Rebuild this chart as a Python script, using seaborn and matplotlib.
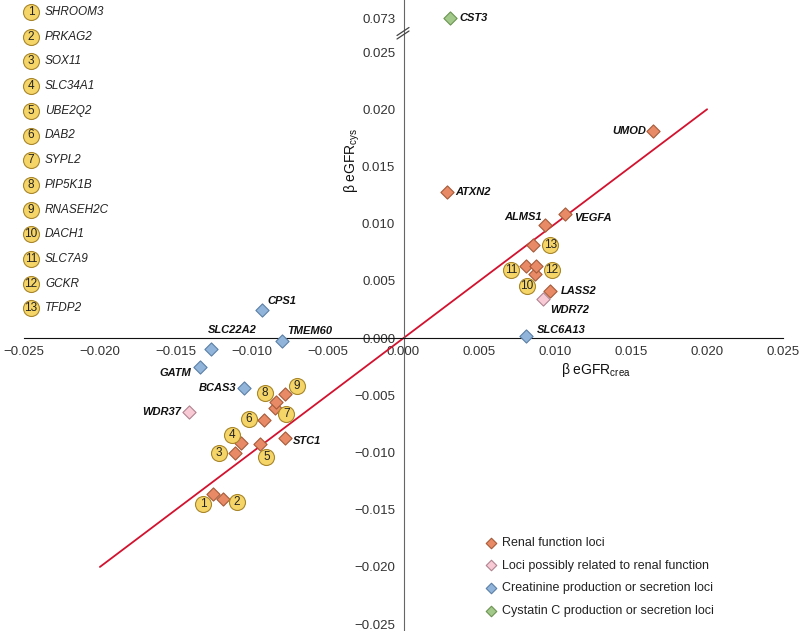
import numpy as np
import pandas as pd
import matplotlib
matplotlib.use('Agg')
import matplotlib.pyplot as plt
import matplotlib.transforms as mtransforms
import seaborn as sns

# -----------------------------
# Data
# -----------------------------
named_genes = ['UMOD', 'ATXN2', 'ALMS1', 'VEGFA', 'LASS2', 'WDR72', 'SLC6A13',
               'CPS1', 'SLC22A2', 'TMEM60', 'GATM', 'BCAS3', 'WDR37', 'STC1', 'CST3']
named_crea = [0.01646, 0.00285, 0.00934, 0.01064, 0.00965, 0.00917, 0.00805,
              -0.0093, -0.0127, -0.00798, -0.0134, -0.01049, -0.01411, -0.00783, 0.00306]
named_cys = [0.01809, 0.01279, 0.00985, 0.01081, 0.00411, 0.00338, 0.0002,
             0.00245, -0.00099, -0.00024, -0.00251, -0.00434, -0.0065, -0.00877, 0.073]
named_group = ['renal', 'renal', 'renal', 'renal', 'renal', 'possible', 'creatinine',
               'creatinine', 'creatinine', 'creatinine', 'creatinine', 'creatinine',
               'possible', 'renal', 'cystatin']

numbered_genes = ['SHROOM3', 'PRKAG2', 'SOX11', 'SLC34A1', 'UBE2Q2', 'DAB2', 'SYPL2',
                  'PIP5K1B', 'RNASEH2C', 'DACH1', 'SLC7A9', 'GCKR', 'TFDP2']
numbered_crea = [-0.01253, -0.01191, -0.0111, -0.01072, -0.00943, -0.00919, -0.00845,
                 -0.00842, -0.00783, 0.00864, 0.00807, 0.00873, 0.00855]
numbered_cys = [-0.01364, -0.0141, -0.01003, -0.0092, -0.00929, -0.00717, -0.00615,
                -0.00557, -0.00492, 0.0056, 0.00632, 0.00632, 0.00813]

groups = ['renal', 'possible', 'creatinine', 'cystatin']
group_labels = ['Renal function loci', 'Loci possibly related to renal function',
                'Creatinine production or secretion loci', 'Cystatin C production or secretion loci']

x_ticks = [-0.025, -0.02, -0.015, -0.01, -0.005, 0.0, 0.005, 0.01, 0.015, 0.02, 0.025]
y_ticks = [-0.025, -0.02, -0.015, -0.01, -0.005, 0.0, 0.005, 0.01, 0.015, 0.02, 0.025, 0.073]
identity_range = [-0.02, 0.02]

# -----------------------------
# Styles / positions
# -----------------------------
fills = {'renal': '#e98a66', 'possible': '#f7cad6', 'creatinine': '#91b5da', 'cystatin': '#a3c98a'}
edges = {'renal': '#a65a38', 'possible': '#b0828f', 'creatinine': '#5b7fa6', 'cystatin': '#6b9352'}

# label offsets in pixels: (ha, dx, dy)
label_pos = {
    'UMOD': ('right', -7, 0), 'ATXN2': ('left', 8, 0), 'ALMS1': ('right', -3, 8),
    'VEGFA': ('left', 9, -4), 'LASS2': ('left', 11, 0), 'WDR72': ('left', 7, -11),
    'SLC6A13': ('left', 11, 6), 'CPS1': ('left', 5, 9), 'SLC22A2': ('left', -3, 19),
    'TMEM60': ('left', 5, 10), 'GATM': ('right', -9, -6), 'BCAS3': ('right', -8, 0),
    'WDR37': ('right', -8, 0), 'STC1': ('left', 8, -3), 'CST3': ('left', 10, 0),
}
circle_pos = [(-10, -10), (14, -3), (-16, 0), (-9, 8), (6, -13), (-15, 1), (11, -6),
              (-11, 9), (12, 8), (-8, -12), (-15, -4), (16, -4), (17, 0)]

circle_fill = '#f6d568'
circle_edge = '#a8862a'

sns.set_style('white')
plt.rcParams['font.family'] = ['Liberation Sans', 'DejaVu Sans']
plt.rcParams['axes.unicode_minus'] = True

# broken y axis: compress everything above 0.026
BREAK = 0.026
SQUEEZE = 0.0415


def fwd(v):
    v = np.asarray(v, dtype=float)
    return np.where(v <= BREAK, v, BREAK + (v - BREAK) * SQUEEZE)


def inv(v):
    v = np.asarray(v, dtype=float)
    return np.where(v <= BREAK, v, BREAK + (v - BREAK) / SQUEEZE)


df = pd.DataFrame({
    'crea': named_crea + numbered_crea,
    'cys': named_cys + numbered_cys,
    'group': named_group + ['renal'] * len(numbered_genes),
})

fig = plt.figure(figsize=(8, 6.31), dpi=100)
ax = fig.add_axes([24 / 800, 0, 759 / 800, 1])
ax.set_yscale('function', functions=(fwd, inv))

# identity line
ax.plot(identity_range, identity_range, color='#d2122e', lw=1.3, zorder=2)

for g, lab in zip(groups, group_labels):
    sub = df[df['group'] == g]
    sns.scatterplot(data=sub, x='crea', y='cys', marker='D', s=45, color=fills[g],
                    edgecolor=edges[g], linewidth=0.8, label=lab, ax=ax, zorder=4)

# gene names
for name, xv, yv in zip(named_genes, named_crea, named_cys):
    ha, dx, dy = label_pos[name]
    ax.annotate(name, (xv, yv), xytext=(dx, dy), textcoords='offset pixels',
                ha=ha, va='center', fontsize=8, fontstyle='italic', fontweight='bold',
                color='#111111', zorder=5)

# numbered circles next to points
for i, (xv, yv) in enumerate(zip(numbered_crea, numbered_cys)):
    dx, dy = circle_pos[i]
    tr = mtransforms.offset_copy(ax.transData, fig=fig, x=dx, y=dy, units='dots')
    ax.plot([xv], [yv], 'o', ms=11.5, mfc=circle_fill, mec=circle_edge, mew=0.8,
            transform=tr, zorder=5, clip_on=False)
    ax.text(xv, yv, str(i + 1), transform=tr, ha='center', va='center',
            fontsize=8.5, color='#222222', zorder=6)

# axes
ax.set_xlim(-0.025, 0.025)
ax.set_ylim(-0.0256, float(inv(0.02955)))
ax.spines['left'].set_position(('data', 0))
ax.spines['bottom'].set_position(('data', 0))
ax.spines['top'].set_visible(False)
ax.spines['right'].set_visible(False)
ax.spines['left'].set_color('#666666')
ax.spines['bottom'].set_color('#111111')
ax.set_xticks(x_ticks)
ax.set_xticklabels([f'{v:.3f}'.replace('-', '\u2212') for v in x_ticks])
ax.set_yticks(y_ticks)
ax.set_yticklabels([f'{v:.3f}'.replace('-', '\u2212') for v in y_ticks])
ax.yaxis.set_minor_locator(matplotlib.ticker.NullLocator())
ax.tick_params(axis='x', direction='out', length=4, width=0.8, color='#111111',
               labelsize=9.5, labelcolor='#333333', pad=2)
ax.tick_params(axis='y', direction='out', length=4, width=0.8, color='#666666',
               labelsize=9.5, labelcolor='#333333', pad=2)
ax.set_xlabel('')
ax.set_ylabel('')

fig.text(596 / 800, 1 - 370 / 631, '\u03b2 eGFR$_{\\mathregular{crea}}$', ha='center', va='center',
         fontsize=10, color='#111111')
fig.text(352 / 800, 1 - 160 / 631, '\u03b2 eGFR$_{\\mathregular{cys}}$', ha='center', va='center',
         fontsize=10, color='#111111', rotation=90)

# axis break marks
for off in (0, 3.5):
    fig.add_artist(plt.Line2D([397 / 800, 409 / 800],
                              [1 - (39 - off) / 631, 1 - (31 - off) / 631],
                              color='#444444', lw=0.9, transform=fig.transFigure))

# numbered gene list, top left
for i, name in enumerate(numbered_genes):
    yy = 1 - (12 + i * 24.7) / 631
    ax.plot([31 / 800], [yy], 'o', ms=11.5, mfc=circle_fill, mec=circle_edge, mew=0.8,
            transform=fig.transFigure, clip_on=False, zorder=5)
    fig.text(31 / 800, yy, str(i + 1), ha='center', va='center', fontsize=8.5, color='#222222')
    fig.text(45 / 800, yy, name, ha='left', va='center', fontsize=8.5,
             fontstyle='italic', color='#222222')

leg = ax.legend(loc='upper left', bbox_to_anchor=(485 / 800, 1 - 537 / 631),
                bbox_transform=fig.transFigure, frameon=False, fontsize=9,
                handlelength=1.0, handletextpad=0.4, labelspacing=0.85,
                borderpad=0, borderaxespad=0, markerscale=0.8)
for t in leg.get_texts():
    t.set_color('#222222')

fig.savefig('out.png', dpi=100)
